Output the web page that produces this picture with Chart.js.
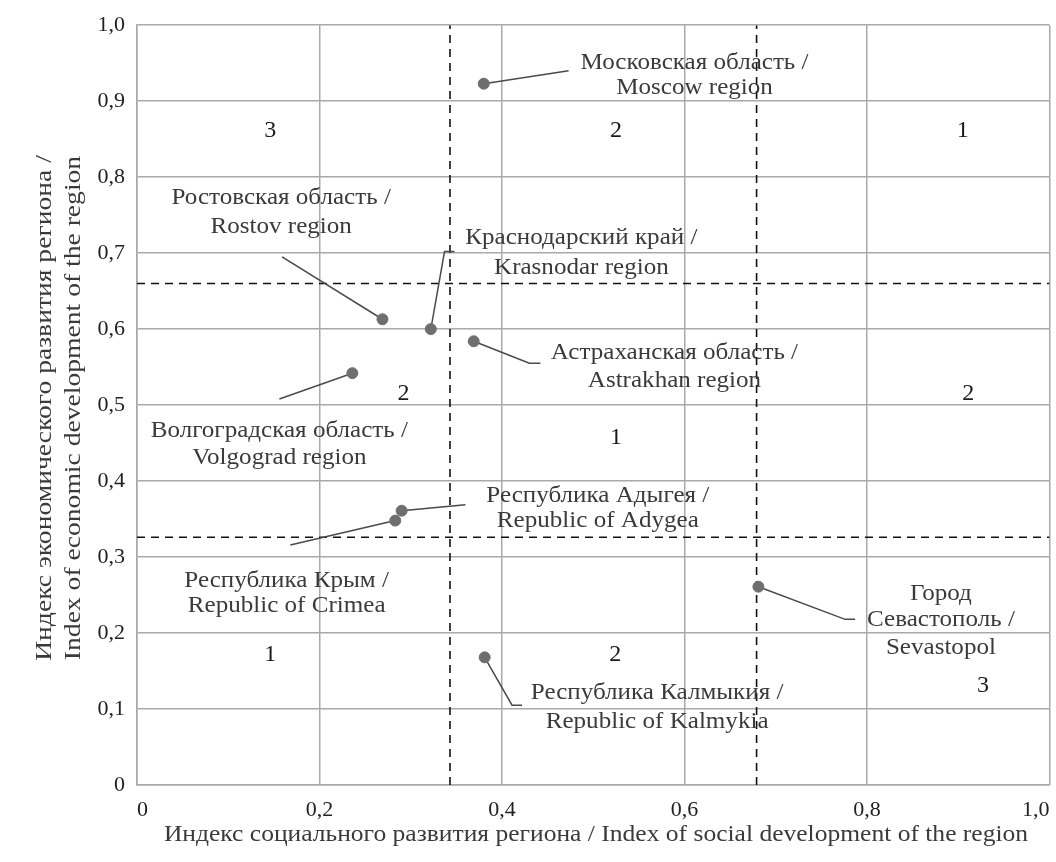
<!DOCTYPE html>
<html>
<head>
<meta charset="utf-8">
<script src="https://cdn.jsdelivr.net/npm/chart.js@4/dist/chart.umd.min.js"></script>
<style>
  html, body { margin: 0; padding: 0; background: #fff; }
  #wrap { width: 1056px; height: 862px; position: relative; }
</style>
</head>
<body>
<div id="wrap"><canvas id="regionChart"></canvas></div>
<script>
// data
const regionNames = [
  ["Московская область /", "Moscow region"],
  ["Ростовская область /", "Rostov region"],
  ["Краснодарский край /", "Krasnodar region"],
  ["Астраханская область /", "Astrakhan region"],
  ["Волгоградская область /", "Volgograd region"],
  ["Республика Адыгея /", "Republic of Adygea"],
  ["Республика Крым /", "Republic of Crimea"],
  ["Республика Калмыкия /", "Republic of Kalmykia"],
  ["Город", "Севастополь /", "Sevastopol"]
];
const socialIndex = [0.380, 0.269, 0.322, 0.369, 0.236, 0.290, 0.283, 0.381, 0.681];
const economicIndex = [0.923, 0.613, 0.600, 0.584, 0.542, 0.361, 0.348, 0.168, 0.261];
const xThresholds = [0.343, 0.679];
const yThresholds = [0.326, 0.660];
const xTickLabels = ["0", "0,2", "0,4", "0,6", "0,8", "1,0"];
const yTickLabels = ["0", "0,1", "0,2", "0,3", "0,4", "0,5", "0,6", "0,7", "0,8", "0,9", "1,0"];
const zoneNumbers = ["3", "2", "1", "2", "1", "2", "1", "2", "3"];

// where labels and leader bends sit (axis units)
const labelPos = [
  { x: 0.611, y: [0.950, 0.918], leader: [[0.473, 0.940]] },
  { x: 0.158, y: [0.772, 0.735], leader: [[0.159, 0.695]] },
  { x: 0.487, y: [0.720, 0.680], leader: [[0.337, 0.702], [0.348, 0.702]] },
  { x: 0.589, y: [0.568, 0.532], leader: [[0.430, 0.555], [0.442, 0.555]] },
  { x: 0.156, y: [0.466, 0.431], leader: [[0.156, 0.508]] },
  { x: 0.505, y: [0.381, 0.347], leader: [[0.360, 0.369]] },
  { x: 0.164, y: [0.268, 0.235], leader: [[0.168, 0.316]] },
  { x: 0.570, y: [0.121, 0.083], leader: [[0.411, 0.105], [0.422, 0.105]] },
  { x: 0.881, y: [0.252, 0.217, 0.181], leader: [[0.776, 0.218], [0.787, 0.218]] }
];
const zonePos = [
  [0.146, 0.861], [0.525, 0.861], [0.905, 0.861],
  [0.292, 0.515], [0.525, 0.457], [0.911, 0.515],
  [0.146, 0.171], [0.524, 0.171], [0.927, 0.131]
];

const FONT = "'Liberation Serif', 'Times New Roman', serif";
const gridColor = "#a9a9a9";
const textColor = "#3a3a3a";

const datasets = [];

// region points
datasets.push({
  label: "regions",
  data: socialIndex.map((v, i) => ({ x: v, y: economicIndex[i] })),
  backgroundColor: "#6e6e6e",
  borderColor: "#6e6e6e",
  pointRadius: 5.5,
  showLine: false,
  order: 0
});

// leader lines from each point to its label
labelPos.forEach((p, i) => {
  const pts = [{ x: socialIndex[i], y: economicIndex[i] }];
  p.leader.forEach(l => pts.push({ x: l[0], y: l[1] }));
  datasets.push({
    label: "leader" + i,
    data: pts,
    showLine: true,
    borderColor: "#4a4a4a",
    borderWidth: 1.5,
    pointRadius: 0,
    order: 1
  });
});

// dashed threshold lines
xThresholds.forEach(t => {
  datasets.push({
    data: [{ x: t, y: 0 }, { x: t, y: 1 }],
    showLine: true, borderColor: "#111", borderWidth: 1.6,
    borderDash: [8, 6], pointRadius: 0, order: 2
  });
});
yThresholds.forEach(t => {
  datasets.push({
    data: [{ x: 0, y: t }, { x: 1, y: t }],
    showLine: true, borderColor: "#111", borderWidth: 1.6,
    borderDash: [8, 6], pointRadius: 0, order: 2
  });
});

// text in the scan is a bit wider than the font, so stretch it along its direction
function wideText(ctx, text, x, y, sx) {
  ctx.save();
  ctx.translate(x, y);
  ctx.scale(sx, 1);
  ctx.fillText(text, 0, 0);
  ctx.restore();
}

const textPlugin = {
  id: "textPlugin",
  afterDatasetsDraw(chart) {
    const ctx = chart.ctx;
    const xs = chart.scales.x, ys = chart.scales.y;
    ctx.save();
    ctx.textAlign = "center";
    ctx.textBaseline = "middle";

    ctx.fillStyle = textColor;
    ctx.font = "23px " + FONT;
    labelPos.forEach((p, i) => {
      regionNames[i].forEach((line, j) => {
        wideText(ctx, line, xs.getPixelForValue(p.x), ys.getPixelForValue(p.y[j]), 1.09);
      });
    });

    ctx.fillStyle = "#1a1a1a";
    ctx.font = "24px " + FONT;
    zonePos.forEach((z, i) => {
      ctx.fillText(zoneNumbers[i], xs.getPixelForValue(z[0]), ys.getPixelForValue(z[1]));
    });

    // axis titles
    ctx.fillStyle = textColor;
    ctx.font = "23px " + FONT;
    wideText(ctx, "Индекс социального развития региона / Index of social development of the region", 596, 835, 1.11);
    ctx.translate(60, 408);
    ctx.rotate(-Math.PI / 2);
    wideText(ctx, "Индекс экономического развития региона /", 0, -15, 1.2);
    wideText(ctx, "Index of economic development of the region", 0, 14, 1.2);
    ctx.restore();
  }
};

new Chart(document.getElementById("regionChart"), {
  type: "scatter",
  data: { datasets: datasets },
  options: {
    responsive: true,
    maintainAspectRatio: false,
    animation: false,
    layout: { padding: { top: 24, right: 4, left: 0, bottom: 0 } },
    plugins: {
      legend: { display: false },
      tooltip: { enabled: false }
    },
    scales: {
      x: {
        type: "linear",
        min: 0, max: 1,
        afterFit: (s) => { s.height = 77; s.paddingRight = 0; s.paddingLeft = 0; },
        grid: { color: gridColor, lineWidth: 1.5, drawTicks: false },
        border: { color: gridColor, width: 1.5 },
        ticks: {
          stepSize: 0.2,
          padding: 12,
          align: "inner",
          color: "#222",
          font: { family: FONT, size: 22 },
          callback: (v, i) => xTickLabels[i]
        }
      },
      y: {
        min: 0, max: 1,
        afterFit: (s) => { s.width = 137; },
        grid: { color: gridColor, lineWidth: 1.5, drawTicks: false },
        border: { color: gridColor, width: 1.5 },
        ticks: {
          stepSize: 0.1,
          padding: 12,
          color: "#222",
          font: { family: FONT, size: 22 },
          callback: (v, i) => yTickLabels[i]
        }
      }
    }
  },
  plugins: [textPlugin]
});
</script>
</body>
</html>
